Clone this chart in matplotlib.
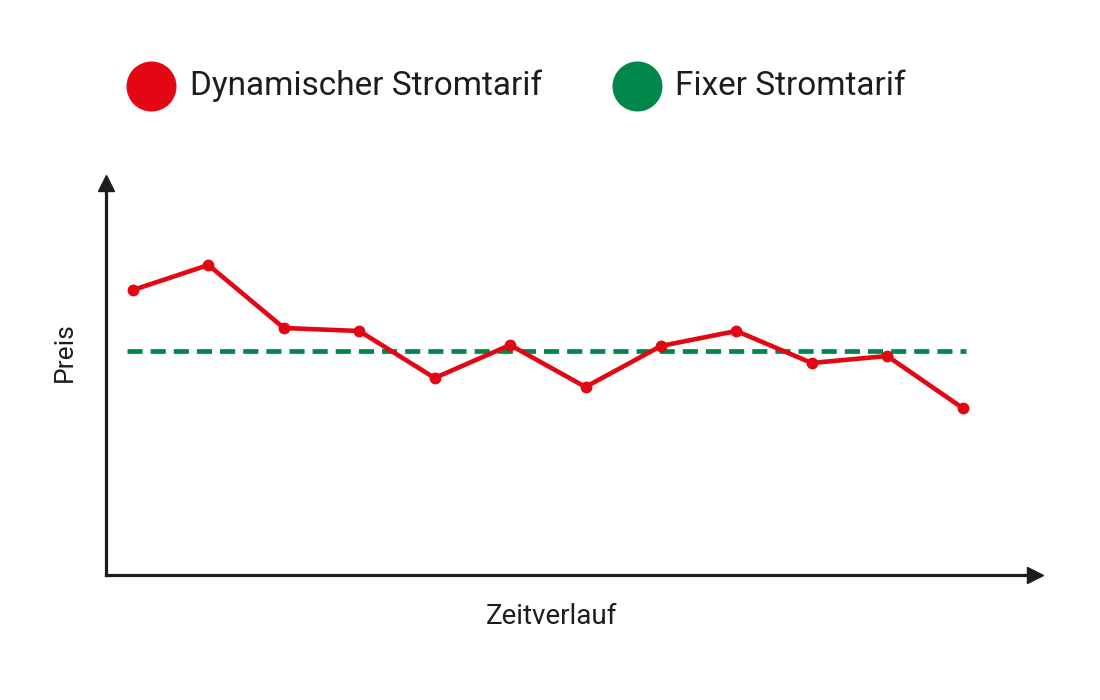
import matplotlib.pyplot as plt

plt.rcParams['font.family'] = ['Roboto', 'DejaVu Sans']

# data (arbitrary price units)
zeit = list(range(12))
dynamisch = [28.5, 31.0, 24.7, 24.4, 19.7, 23.0, 18.8, 22.9, 24.4, 21.2, 21.9, 16.7]
fix = 22.4
labels = ["Dynamischer Stromtarif", "Fixer Stromtarif"]

red = "#e30613"
green = "#00884a"
dark = "#1d1d1b"

fig = plt.figure(figsize=(11, 7), dpi=100)
ax = fig.add_axes([106 / 1100, 125 / 700, 929 / 1100, 392 / 700])

ax.plot([zeit[0] - 0.08, zeit[-1] + 0.05], [fix, fix], color=green, lw=3.4,
        dashes=(3.2, 1.7), solid_capstyle="butt", dash_capstyle="butt")
ax.plot(zeit, dynamisch, color=red, lw=3.3, marker="o", ms=7.5, solid_joinstyle="round")

ax.set_xlim(-0.358, 11.96)
ax.set_ylim(0, 39.2)
for s in ["top", "right"]:
    ax.spines[s].set_visible(False)
for s in ["left", "bottom"]:
    ax.spines[s].set_linewidth(2.3)
    ax.spines[s].set_color(dark)
ax.set_xticks([])
ax.set_yticks([])
ax.plot(1, 0, ">", color=dark, ms=12, transform=ax.transAxes, clip_on=False)
ax.plot(0, 1, "^", color=dark, ms=12, transform=ax.transAxes, clip_on=False)

ax.set_xlabel("Zeitverlauf", fontsize=20, color=dark)
ax.set_ylabel("Preis", fontsize=19, color=dark)
ax.xaxis.set_label_coords((552 - 106) / 929, -(617 - 575) / 392)
ax.yaxis.set_label_coords(-(106 - 65) / 929, (575 - 352) / 392)
ax.xaxis.label.set_va("center")
ax.yaxis.label.set_va("center")

# legend
fig.lines.append(plt.Line2D([151 / 1100], [614 / 700], marker="o", ms=35, color=red,
                            transform=fig.transFigure))
fig.lines.append(plt.Line2D([637 / 1100], [614 / 700], marker="o", ms=35, color=green,
                            transform=fig.transFigure))
fig.text(190 / 1100, 614 / 700, labels[0], fontsize=24, color=dark, va="center")
fig.text(675 / 1100, 614 / 700, labels[1], fontsize=24, color=dark, va="center")

fig.savefig("out.png")
